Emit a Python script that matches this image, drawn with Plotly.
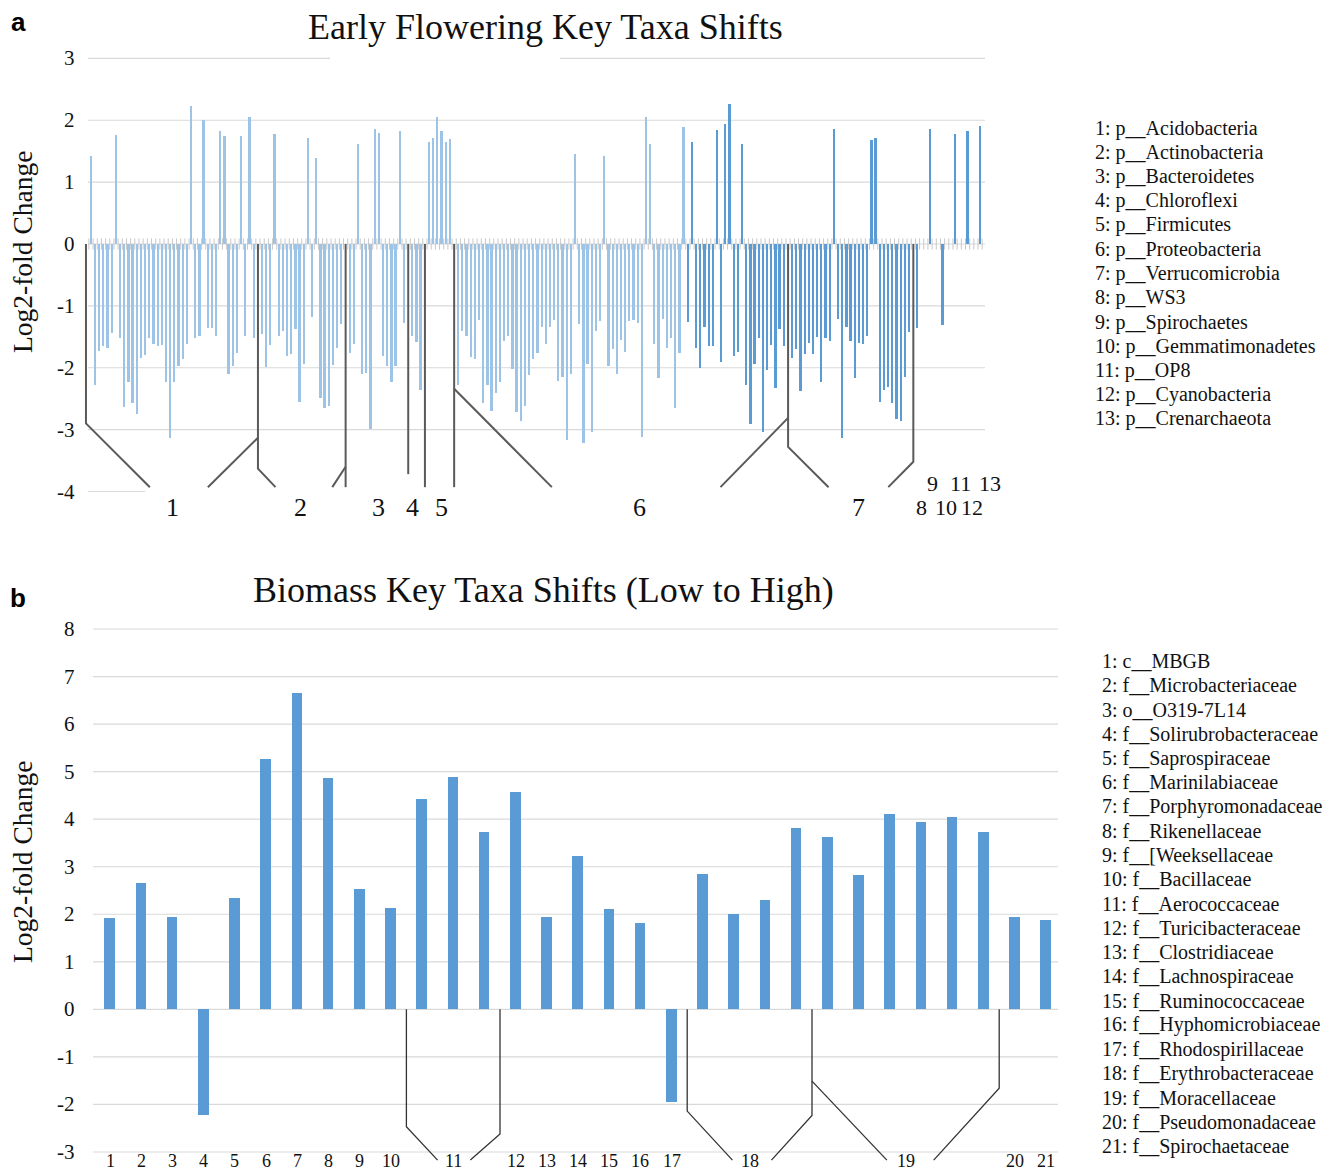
import plotly.graph_objects as go

W, H = 1336, 1173

# ---------------- data: panel a ----------------
top_values = [
    1.42, -2.29, -1.74, -1.66, -1.68, -1.44, 1.75, -1.52, -2.64, -2.24,
    -2.57, -2.76, -1.85, -1.80, -1.53, -1.62, -1.66, -1.64, -2.24, -3.14,
    -2.24, -1.98, -1.87, -1.62, 2.23, -1.52, -1.49, 2.00, -1.37, -1.37,
    -1.49, 1.82, 1.74, -2.10, -1.98, -1.76, 1.74, -1.50, 2.04, -1.53,
    None, -1.46, -2.00, -1.64, 1.77, -1.49, -1.42, -1.81, -1.79, -1.38,
    -2.56, -1.95, 1.70, -1.18, 1.38, -2.50, -2.65, -2.63, -1.96, -1.68,
    -1.30, None, -1.76, -1.62, 1.61, -2.11, -2.09, -3.00, 1.86, 1.79,
    -1.81, -1.98, -2.24, -1.98, 1.82, -1.29, None, -1.50, -1.59, -2.37,
    None, 1.64, 1.70, 2.04, 1.82, 1.64, 1.69, None, -2.29, -1.42,
    -1.50, -1.83, -1.87, -1.24, -2.57, -2.29, -2.70, -2.41, -2.23, -1.57,
    -1.49, -2.02, -2.72, -2.87, -2.63, -2.12, -1.87, -1.77, -1.35, -1.62,
    -1.35, -1.24, -2.22, -2.15, -3.18, -2.10, 1.45, -1.30, -3.22, -1.95,
    -3.04, -1.41, -1.25, 1.42, -1.98, -1.71, -2.10, -1.56, -1.75, -1.25,
    -1.24, -1.29, -3.12, 2.04, 1.61, -1.62, -2.18, -1.22, -1.68, -1.52,
    -2.65, -1.76, 1.89, -1.26, 1.65, -1.68, -2.01, -1.35, -1.66, -1.65,
    1.84, -1.92, 1.94, 2.25, -1.82, -1.75, 1.61, -2.29, -2.91, -1.95,
    -1.52, -3.04, -2.04, -1.64, -2.33, -1.38, -1.66, None, -1.85, -1.71,
    -2.38, -1.79, -1.60, -1.79, -1.51, -2.24, -1.52, -1.57, 1.85, -1.22,
    -3.14, -1.35, -1.57, -2.18, -1.60, -1.62, -1.50, 1.67, 1.70, -2.56,
    -2.36, -2.31, -2.57, -2.84, -2.87, -2.16, -1.43, None, -1.37, None,
    None, 1.86, None, None, -1.31, None, None, 1.77, None, None,
    1.82, None, None, 1.90,
]
top_dark_from = 143  # bars from this index on are drawn darker

top_group_labels = ["1", "2", "3", "4", "5", "6", "7", "8", "9", "10", "11", "12", "13"]
top_legend = [
    "1: p__Acidobacteria", "2: p__Actinobacteria", "3: p__Bacteroidetes",
    "4: p__Chloroflexi", "5: p__Firmicutes", "6: p__Proteobacteria",
    "7: p__Verrucomicrobia", "8: p__WS3", "9: p__Spirochaetes",
    "10: p__Gemmatimonadetes", "11: p__OP8", "12: p__Cyanobacteria",
    "13: p__Crenarchaeota",
]
top_yticks = [3, 2, 1, 0, -1, -2, -3, -4]

# ---------------- data: panel b ----------------
bottom_values = [
    1.92, 2.66, 1.94, -2.22, 2.35, 5.27, 6.66, 4.87, 2.54, 2.14,
    4.43, 4.89, 3.74, 4.57, 1.95, 3.22, 2.12, 1.82, -1.94, 2.85,
    2.00, 2.31, 3.81, 3.62, 2.82, 4.11, 3.94, 4.04, 3.74, 1.95,
    1.88,
]
bottom_groups = [1, 2, 3, 4, 5, 6, 7, 8, 9, 10, 11, 11, 11, 12, 13, 14, 15, 16,
                 17, 18, 18, 18, 18, 19, 19, 19, 19, 19, 19, 20, 21]
bottom_legend = [
    "1: c__MBGB", "2: f__Microbacteriaceae", "3: o__O319-7L14",
    "4: f__Solirubrobacteraceae", "5: f__Saprospiraceae", "6: f__Marinilabiaceae",
    "7: f__Porphyromonadaceae", "8: f__Rikenellaceae", "9: f__[Weeksellaceae",
    "10: f__Bacillaceae", "11: f__Aerococcaceae", "12: f__Turicibacteraceae",
    "13: f__Clostridiaceae", "14: f__Lachnospiraceae", "15: f__Ruminococcaceae",
    "16: f__Hyphomicrobiaceae", "17: f__Rhodospirillaceae", "18: f__Erythrobacteraceae",
    "19: f__Moracellaceae", "20: f__Pseudomonadaceae", "21: f__Spirochaetaceae",
]
bottom_yticks = [8, 7, 6, 5, 4, 3, 2, 1, 0, -1, -2, -3]

# ---------------- layout geometry (pixels) ----------------
TOP_X = (88.9, 982.2)
TOP_Y = (58.4, 491.5)        # pixel of range max, range min
TOP_RX = (-0.5, 213.5)
TOP_RY = (-4, 3)
BOT_X = (94.4, 1061.6)
BOT_Y = (629.0, 1152.0)
BOT_RX = (-0.5, 30.5)
BOT_RY = (-3, 8)

LIGHT = "#9DC3E6"
DARK = "#5B9BD5"
GRID = "#D9D9D9"
BRACKET = "#4D4D4D"
SERIF = "Liberation Serif, Times New Roman, serif"


def px_x(v, dom, rng):
    return dom[0] + (v - rng[0]) / (rng[1] - rng[0]) * (dom[1] - dom[0])


def px_y(v, dom, rng):
    return dom[1] - (v - rng[0]) / (rng[1] - rng[0]) * (dom[1] - dom[0])


def pap(xp, yp):
    return xp / W, 1 - yp / H


def top_pt(xv, yv):
    return pap(px_x(xv, TOP_X, TOP_RX), px_y(yv, TOP_Y, TOP_RY))


def bot_pt(xv, yv):
    return pap(px_x(xv, BOT_X, BOT_RX), px_y(yv, BOT_Y, BOT_RY))


def polyline(points, conv, color=BRACKET, width=1.6):
    pts = [conv(x, y) for x, y in points]
    path = "M " + " L ".join(f"{x:.5f},{y:.5f}" for x, y in pts)
    return dict(type="path", path=path, xref="paper", yref="paper",
                line=dict(color=color, width=width), layer="above")


fig = go.Figure()

# panel a bars
n_top = len(top_values)
top_x = list(range(n_top))
top_colors = [LIGHT if i < top_dark_from else DARK for i in top_x]
fig.add_trace(go.Bar(x=top_x, y=top_values, width=0.42, marker=dict(color=top_colors, line=dict(width=0)),
                     xaxis="x", yaxis="y", showlegend=False, hoverinfo="x+y"))
# category tick marks on the zero line
tick_x = [i - 0.5 for i in range(n_top + 1)]
fig.add_trace(go.Scatter(x=tick_x, y=[0] * len(tick_x), mode="markers", xaxis="x", yaxis="y",
                         marker=dict(symbol="line-ns", size=8, line=dict(color="#C8C8C8", width=1)),
                         showlegend=False, hoverinfo="skip", cliponaxis=False))

# panel b bars
bot_x = list(range(len(bottom_values)))
fig.add_trace(go.Bar(x=bot_x, y=bottom_values, width=0.34, marker=dict(color=DARK, line=dict(width=0)),
                     xaxis="x2", yaxis="y2", showlegend=False))

shapes = []
# gridlines panel a
for v in top_yticks:
    y = 1 - px_y(v, TOP_Y, TOP_RY) / H
    if v == -4:
        segs = [(88, 145)]
    elif v == 3:
        segs = [(88, 330), (560, 985)]
    else:
        segs = [(88, 985)]
    for a, b in segs:
        shapes.append(dict(type="line", xref="paper", yref="paper", x0=a / W, x1=b / W, y0=y, y1=y,
                           line=dict(color=GRID, width=1.2), layer="below"))
# gridlines panel b
for v in bottom_yticks:
    y = 1 - px_y(v, BOT_Y, BOT_RY) / H
    shapes.append(dict(type="line", xref="paper", yref="paper", x0=93 / W, x1=1058 / W, y0=y, y1=y,
                       line=dict(color=GRID, width=1.2), layer="below"))

# group brackets panel a (category index, value)
top_brackets = [
    [(-1.2, 0), (-1.2, -2.9), (14.1, -3.93)],
    [(28.0, -3.93), (40, -3.13)],
    [(40, 0), (40, -3.63), (44.2, -3.93)],
    [(57.8, -3.93), (61, -3.6)],
    [(61, 0), (61, -3.93)],
    [(76, 0), (76, -3.72)],
    [(80, 0), (80, -3.93)],
    [(87, 0), (87, -3.93)],
    [(87, -2.34), (110.4, -3.93)],
    [(150.8, -3.93), (167, -2.81)],
    [(167, 0), (167, -3.28), (176.7, -3.93)],
    [(197, 0), (197, -3.52), (191.0, -3.93)],
]
for b in top_brackets:
    shapes.append(polyline(b, top_pt, width=2.0, color="#5A5A5A"))

# group brackets panel b
bot_brackets = [
    [(9.5, 0), (9.5, -2.47), (10.5, -3.17)],
    [(12.5, 0), (12.5, -2.62), (11.55, -3.17)],
    [(18.5, 0), (18.5, -2.14), (19.95, -3.17)],
    [(22.5, 0), (22.5, -2.23), (21.2, -3.17)],
    [(22.5, -1.51), (24.9, -3.17)],
    [(28.5, 0), (28.5, -1.66), (26.4, -3.17)],
]
for b in bot_brackets:
    shapes.append(polyline(b, bot_pt, width=1.3, color="#333333"))

annotations = []


def add_text(xp, yp, text, size, xanchor="center", yanchor="middle", family=SERIF, color="#111111",
             angle=0, bold=False):
    x, y = pap(xp, yp)
    annotations.append(dict(x=x, y=y, xref="paper", yref="paper", text=f"<b>{text}</b>" if bold else text,
                            showarrow=False, xanchor=xanchor, yanchor=yanchor, textangle=angle,
                            font=dict(family=family, size=size, color=color)))


# titles and panel letters
add_text(545, 27, "Early Flowering Key Taxa Shifts", 36)
add_text(543, 590, "Biomass Key Taxa Shifts (Low to High)", 36)
add_text(18, 22, "a", 26, family="Liberation Sans, Arial, sans-serif", color="#000000", bold=True)
add_text(18, 598, "b", 26, family="Liberation Sans, Arial, sans-serif", color="#000000", bold=True)
add_text(22, 252, "Log2-fold Change", 27.5, angle=-90)
add_text(22, 862, "Log2-fold Change", 27.5, angle=-90)

# y tick labels
for v in top_yticks:
    add_text(77, px_y(v, TOP_Y, TOP_RY), str(v), 21, xanchor="right")
for v in bottom_yticks:
    add_text(77, px_y(v, BOT_Y, BOT_RY), str(v), 21, xanchor="right")

# panel a group labels (positions in category units)
top_label_pos = [19.5, 50.2, 68.8, 77.1, 83.9, 131.5, 183.8, 198.9, 201.5, 204.8, 208.2, 211.1, 215.4]
top_label_row = [507, 507, 507, 507, 507, 507, 507, 507, 483, 507, 483, 507, 483]
top_label_size = [26, 26, 26, 26, 26, 26, 26, 22, 22, 22, 22, 22, 22]
for lab, pos, row, sz in zip(top_group_labels, top_label_pos, top_label_row, top_label_size):
    add_text(px_x(pos, TOP_X, TOP_RX), row, lab, sz)

# panel b group labels (centred under their bars)
groups_seen = []
for g in bottom_groups:
    if g not in groups_seen:
        groups_seen.append(g)
for g in groups_seen:
    idx = [i for i, gg in enumerate(bottom_groups) if gg == g]
    c = sum(idx) / len(idx)
    add_text(px_x(c, BOT_X, BOT_RX), 1161, str(g), 18)

# legends
for k, t in enumerate(top_legend):
    add_text(1093, 128 + 24.25 * k, t, 20, xanchor="left")
for k, t in enumerate(bottom_legend):
    add_text(1100, 661 + 24.25 * k, t, 20, xanchor="left")

fig.update_layout(
    width=W, height=H, autosize=False,
    margin=dict(l=0, r=0, t=0, b=0),
    paper_bgcolor="white", plot_bgcolor="rgba(0,0,0,0)",
    bargap=0,
    shapes=shapes, annotations=annotations,
    xaxis=dict(domain=[TOP_X[0] / W, TOP_X[1] / W], range=list(TOP_RX), anchor="y",
               showgrid=False, showticklabels=False, zeroline=False, ticks="", automargin=False),
    yaxis=dict(domain=[1 - TOP_Y[1] / H, 1 - TOP_Y[0] / H], range=list(TOP_RY), anchor="x",
               showgrid=False, showticklabels=False, zeroline=False, ticks="", automargin=False),
    xaxis2=dict(domain=[BOT_X[0] / W, BOT_X[1] / W], range=list(BOT_RX), anchor="y2",
                showgrid=False, showticklabels=False, zeroline=False, ticks="", automargin=False),
    yaxis2=dict(domain=[1 - BOT_Y[1] / H, 1 - BOT_Y[0] / H], range=list(BOT_RY), anchor="x2",
                showgrid=False, showticklabels=False, zeroline=False, ticks="", automargin=False),
)

fig.write_html(
    "out.html",
    config={"displayModeBar": False},
    post_script="document.body.style.margin='0';document.body.style.padding='0';"
                "document.body.style.overflow='hidden';",
)
